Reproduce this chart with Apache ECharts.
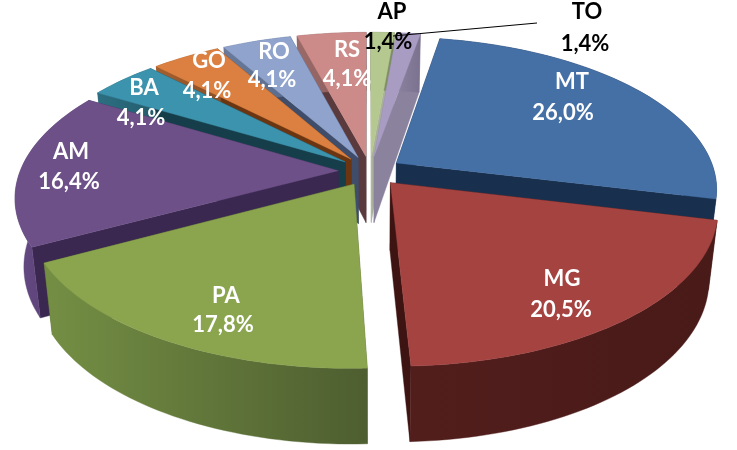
<!DOCTYPE html>
<html><head><meta charset="utf-8">
<script src="https://cdn.jsdelivr.net/npm/echarts@6/dist/echarts.min.js"></script>
<style>html,body{margin:0;padding:0;background:#fff}#c{width:737px;height:450px}</style>
</head><body><div id="c"></div>
<script>
// ---- data, clockwise from the first slice
const names = ['MT','MG','PA','AM','BA','GO','RO','RS','AP','TO'];
const values = [26.0,20.5,17.8,16.4,4.1,4.1,4.1,4.1,1.4,1.4];
const valueLabels = ['26,0%','20,5%','17,8%','16,4%','4,1%','4,1%','4,1%','4,1%','1,4%','1,4%'];
// painter's order: back to front (indices into names)
const drawOrder = [8,9,7,6,5,4,0,3,1,2];
// colours
const topColors   = ['#4570A6','#A54341','#8AA54E','#6E5088','#3C93AD','#DB8040','#8FA3CC','#CC8A88','#B4C88F','#A99CC3'];
const innerColors = ['#18304E','#3D1412','#4E5E30','#3A2850','#153E4A','#6A3510','#3F4D6B','#5A3A3C','#A9B09A','#8B829E'];
const outerLeft   = ['#18304E','#521E1C','#748F44','#644A82','#2C6F82','#A55F2E','#6A7A9A','#9A6A68','#8A9A6C','#8B829E'];
const outerRight  = ['#18304E','#481A18','#4E5E30','#54396F','#245C6C','#8A4F26','#5A6A8A','#84585A','#7A8A5E','#7B7290'];

// ---- projection of the tilted pie (layout only)
const CX=370, CY=171, RX=318, RY=149, K=0.165, DEPTH=67, EXPLODE=0.1, START=10;
function proj(u,v,lower){
  const d=1-K*v; let x=RX*u/d, y=RY*v/d;
  if(lower){ x*=0.975; y+=DEPTH+8*v; }
  return [CX+x,CY+y];
}
const total = values.reduce((a,b)=>a+b,0);
const spans = []; { let a=START; values.forEach(v=>{const s=v/total*360; spans.push([a,a+s]); a+=s;}); }

function sliceGroup(i){
  const [a0,a1]=spans[i];
  const mid=(a0+a1)/2*Math.PI/180;
  const ox=EXPLODE*Math.sin(mid), oy=-EXPLODE*Math.cos(mid);
  const n=Math.max(4,Math.ceil((a1-a0)/1.5));
  const rim=[];
  for(let k=0;k<=n;k++){ const t=(a0+(a1-a0)*k/n)*Math.PI/180; rim.push([ox+Math.sin(t),oy-Math.cos(t)]); }
  const P=(p,l)=>proj(p[0],p[1],l);
  const apex=[ox,oy];
  const top=[P(apex,false)].concat(rim.map(p=>P(p,false)));
  const bottom=rim.map(p=>P(p,true));
  const outer=rim.map(p=>P(p,false)).concat(bottom.slice().reverse());
  const poly=(points,fill,z2)=>({type:'polygon',shape:{points},z2,style:{fill,stroke:fill,lineWidth:0.4}});
  const grad={type:'linear',x:0,y:0,x2:1,y2:0,colorStops:[{offset:0,color:outerLeft[i]},{offset:1,color:outerRight[i]}]};
  const z=drawOrder.indexOf(i)*10;
  return {type:'group',children:[
    poly([P(apex,false),P(rim[0],false),P(rim[0],true),P(apex,true)],innerColors[i],z+1),
    poly([P(apex,false),P(rim[n],false),P(rim[n],true),P(apex,true)],innerColors[i],z+1),
    poly(outer,grad,z+2),
    poly(top,topColors[i],z+3)
  ]};
}

// ---- label anchors: [name x, name y, value x, value y]
const labelAnchors = [[572,82,563,113],[562,279,561,310],[226,296,223,325],[71,152,69,182],[144,88,141,118],
  [209,61,207,91],[274,52,272,80],[347,50,347,79],[392,12,388,42],[587,12,585,44]];
const labelColors = ['#fff','#fff','#fff','#fff','#fff','#fff','#fff','#fff','#000','#000'];
const FONT='bold 22px Lato';

function labelGroup(i){
  const a=labelAnchors[i];
  const t=(text,x,y)=>({type:'text',z2:500,style:{text,x,y,fill:labelColors[i],font:FONT,align:'center',verticalAlign:'middle'}});
  const ch=[t(names[i],a[0],a[1]),t(valueLabels[i],a[2],a[3])];
  if(names[i]==='TO') ch.push({type:'line',z2:499,shape:{x1:393,y1:36,x2:537,y2:23},style:{stroke:'#000',lineWidth:1}});
  return {type:'group',children:ch};
}

const chart=echarts.init(document.getElementById('c'));
chart.setOption({
  animation:false,
  series:[
    {type:'custom',coordinateSystem:'none',silent:true,clip:false,z:1,
     data:drawOrder.map(i=>[i]),renderItem:(p,api)=>sliceGroup(api.value(0))},
    {type:'custom',coordinateSystem:'none',silent:true,clip:false,z:2,
     data:names.map((n,i)=>[i]),renderItem:(p,api)=>labelGroup(api.value(0))}
  ]
});
</script></body></html>
